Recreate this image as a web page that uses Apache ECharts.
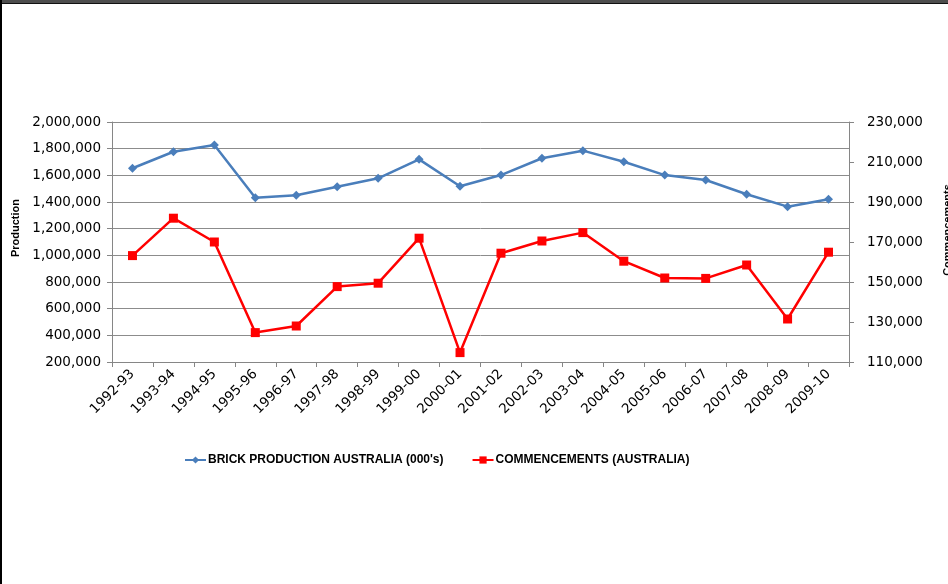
<!DOCTYPE html>
<html>
<head>
<meta charset="utf-8">
<script src="https://cdn.jsdelivr.net/npm/echarts@6/dist/echarts.min.js"></script>
<style>
html,body{margin:0;padding:0;background:#fff;overflow:hidden;}
#chart{position:absolute;left:0;top:0;width:948px;height:584px;}
#topbar{position:absolute;left:0;top:0;width:948px;height:3px;background:#4d4d4d;border-bottom:1px solid #111;z-index:5;}
#leftbar{position:absolute;left:0;top:0;width:2px;height:584px;background:#000;z-index:5;}
</style>
</head>
<body>
<div id="chart"></div>
<div id="topbar"></div>
<div id="leftbar"></div>
<script>
const categories = ['1992-93','1993-94','1994-95','1995-96','1996-97','1997-98','1998-99','1999-00','2000-01','2001-02','2002-03','2003-04','2004-05','2005-06','2006-07','2007-08','2008-09','2009-10'];
const brickProduction = [1653000,1777000,1828000,1432000,1450000,1515000,1578000,1720000,1518000,1602000,1728000,1785000,1702000,1602000,1565000,1458000,1365000,1420000];
const commencements = [163200,181900,170000,124700,128000,147700,149400,171900,114700,164400,170500,174700,160400,152000,151800,158500,131500,164900];
const seriesNames = ['BRICK PRODUCTION AUSTRALIA (000\'s)','COMMENCEMENTS (AUSTRALIA)'];
const leftAxisName = 'Production';
const rightAxisName = 'Commencements';

const fmt = v => v.toLocaleString('en-US');
const chart = echarts.init(document.getElementById('chart'));
const axisFont = {fontFamily:'DejaVu Sans', fontSize:13.5, color:'#000'};
chart.setOption({
  animation:false,
  backgroundColor:'#fff',
  grid:{left:112, right:99, top:122, bottom:222, containLabel:false, outerBoundsMode:'none'},
  legend:{
    bottom:113, left:179, itemGap:28, itemWidth:21, itemHeight:9,
    textStyle:{fontFamily:'Liberation Sans', fontWeight:'bold', fontSize:12, color:'#000', padding:[0,0,0,-3]},
    data:[seriesNames[0], seriesNames[1]]
  },
  xAxis:{
    type:'category', data:categories, boundaryGap:true,
    axisLine:{lineStyle:{color:'#868686', width:1}},
    axisTick:{show:true, alignWithLabel:false, length:5, lineStyle:{color:'#868686'}},
    axisLabel:Object.assign({rotate:45, margin:10, interval:0}, axisFont)
  },
  yAxis:[
    {
      type:'value', min:200000, max:2000000, interval:200000,
      name:leftAxisName, nameLocation:'middle', nameGap:91, nameRotate:90,
      nameTextStyle:{fontFamily:'Liberation Sans', fontWeight:'bold', fontSize:11, color:'#000', padding:[0,0,0,28]},
      axisLine:{show:true, lineStyle:{color:'#868686'}},
      axisTick:{show:true, length:5, lineStyle:{color:'#868686'}},
      splitLine:{show:true, lineStyle:{color:'#8c8c8c', width:1}},
      axisLabel:Object.assign({formatter:fmt, margin:11}, axisFont)
    },
    {
      type:'value', min:110000, max:230000, interval:20000,
      name:rightAxisName, nameLocation:'middle', nameGap:93, nameRotate:90,
      nameTextStyle:{fontFamily:'Liberation Sans', fontWeight:'bold', fontSize:11, color:'#000', padding:[0,0,0,24]},
      axisLine:{show:true, lineStyle:{color:'#868686'}},
      axisTick:{show:true, length:5, lineStyle:{color:'#868686'}},
      splitLine:{show:false},
      axisLabel:Object.assign({formatter:fmt, margin:18}, axisFont)
    }
  ],
  series:[
    {
      name:seriesNames[0], type:'line', yAxisIndex:0, data:brickProduction,
      symbol:'diamond', symbolSize:9, showAllSymbol:true,
      lineStyle:{color:'#4a7ebb', width:2.5},
      itemStyle:{color:'#4a7ebb'}
    },
    {
      name:seriesNames[1], type:'line', yAxisIndex:1, data:commencements,
      symbol:'rect', symbolSize:9, showAllSymbol:true,
      lineStyle:{color:'#ff0000', width:2.5},
      itemStyle:{color:'#ff0000'}
    }
  ]
});
</script>
</body>
</html>
